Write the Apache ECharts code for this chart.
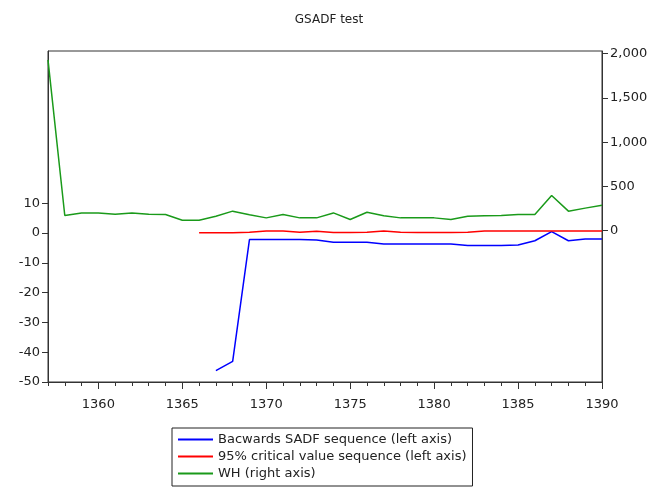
<!DOCTYPE html>
<html>
<head>
<meta charset="utf-8">
<script src="https://cdn.jsdelivr.net/npm/echarts@6/dist/echarts.min.js"></script>
<style>
  html, body { margin: 0; padding: 0; background: #fff; }
  #chart { width: 658px; height: 492px; }
</style>
</head>
<body>
<div id="chart"></div>
<script>
// annual observations
const years = [1357, 1358, 1359, 1360, 1361, 1362, 1363, 1364, 1365, 1366, 1367, 1368,
    1369, 1370, 1371, 1372, 1373, 1374, 1375, 1376, 1377, 1378, 1379, 1380,
    1381, 1382, 1383, 1384, 1385, 1386, 1387, 1388, 1389, 1390];

// backwards SADF sequence (left axis)
const bsadf = [null, null, null, null, null, null, null, null, null, null, -46.2, -43.1,
    -2.2, -2.2, -2.2, -2.2, -2.3, -3.1, -3.1, -3.1, -3.7, -3.7, -3.7, -3.7,
    -3.7, -4.2, -4.2, -4.2, -4.0, -2.6, 0.5, -2.6, -2.0, -2.0];

// 95% critical values (left axis)
const critical = [null, null, null, null, null, null, null, null, null, 0.1, 0.1, 0.1,
    0.3, 0.7, 0.7, 0.3, 0.6, 0.2, 0.2, 0.3, 0.7, 0.3, 0.2, 0.2,
    0.2, 0.3, 0.7, 0.7, 0.7, 0.7, 0.7, 0.7, 0.7, 0.7];

// WH (right axis)
const wh = [1930, 172, 201, 201, 185, 201, 185, 183, 119, 119, 164, 221,
    181, 145, 183, 145, 145, 201, 127, 209, 170, 145, 145, 145,
    127, 164, 170, 172, 183, 183, 398, 221, 255, 288];

const xLabels = [1360, 1365, 1370, 1375, 1380, 1385, 1390];
const leftTicks = [-50, -40, -30, -20, -10, 0, 10];
const rightTicks = [0, 500, 1000, 1500, 2000];

const pairs = (vals) => years.map((y, i) => [y, vals[i]]);

const chart = echarts.init(document.getElementById('chart'));

const labelFont = { fontFamily: 'DejaVu Sans, sans-serif', fontSize: 13, color: '#222' };

chart.setOption({
    animation: false,
    title: {
        text: 'GSADF test',
        left: 'center',
        top: 9,
        textStyle: { fontFamily: 'DejaVu Sans, sans-serif', fontSize: 12, fontWeight: 'normal', color: '#222' }
    },
    grid: {
        left: 48, right: 56, top: 51, bottom: 110,
        show: true, borderColor: '#333', borderWidth: 1
    },
    legend: {
        orient: 'vertical',
        left: 172, top: 428,
        icon: 'rect',
        itemWidth: 35, itemHeight: 2,
        itemGap: 4,
        padding: [5, 6, 6, 6],
        borderColor: '#222', borderWidth: 1,
        textStyle: labelFont
    },
    xAxis: [{
        // yearly minor ticks, carries the series
        type: 'value',
        position: 'bottom',
        min: 1357, max: 1390, interval: 1,
        splitLine: { show: false },
        axisLine: { onZero: false, lineStyle: { color: '#333' } },
        axisTick: { length: 4, lineStyle: { color: '#333' } },
        axisLabel: Object.assign({ customValues: xLabels, margin: 16, formatter: v => String(v) }, labelFont)
    }, {
        // longer ticks every 5 years
        type: 'value',
        position: 'bottom',
        min: 1357, max: 1390,
        splitLine: { show: false },
        axisLine: { show: false, onZero: false },
        axisTick: { customValues: xLabels, length: 7, lineStyle: { color: '#333' } },
        axisLabel: { show: false }
    }],
    yAxis: [{
        type: 'value',
        min: -50, max: 61.1,
        splitLine: { show: false },
        axisLine: { show: true, onZero: false, lineStyle: { color: '#333' } },
        axisTick: { show: true, customValues: leftTicks, length: 6, lineStyle: { color: '#333' } },
        axisLabel: Object.assign({ customValues: leftTicks, margin: 8 }, labelFont)
    }, {
        type: 'value',
        position: 'right',
        min: -1709, max: 2030,
        splitLine: { show: false },
        axisLine: { show: true, onZero: false, lineStyle: { color: '#333' } },
        axisTick: { show: true, customValues: rightTicks, length: 6, lineStyle: { color: '#333' } },
        axisLabel: Object.assign({
            customValues: rightTicks, margin: 8,
            formatter: v => v.toLocaleString('en-US')
        }, labelFont)
    }],
    series: [{
        name: 'Bacwards SADF sequence (left axis)',
        type: 'line',
        xAxisIndex: 0,
        yAxisIndex: 0,
        data: pairs(bsadf),
        symbol: 'none',
        lineStyle: { color: '#0000ff', width: 1.5 },
        itemStyle: { color: '#0000ff' }
    }, {
        name: '95% critical value sequence (left axis)',
        type: 'line',
        xAxisIndex: 0,
        yAxisIndex: 0,
        data: pairs(critical),
        symbol: 'none',
        lineStyle: { color: '#ff0000', width: 1.5 },
        itemStyle: { color: '#ff0000' }
    }, {
        name: 'WH (right axis)',
        type: 'line',
        xAxisIndex: 0,
        yAxisIndex: 1,
        data: pairs(wh),
        symbol: 'none',
        lineStyle: { color: '#1a9a1a', width: 1.5 },
        itemStyle: { color: '#1a9a1a' }
    }]
});
</script>
</body>
</html>
